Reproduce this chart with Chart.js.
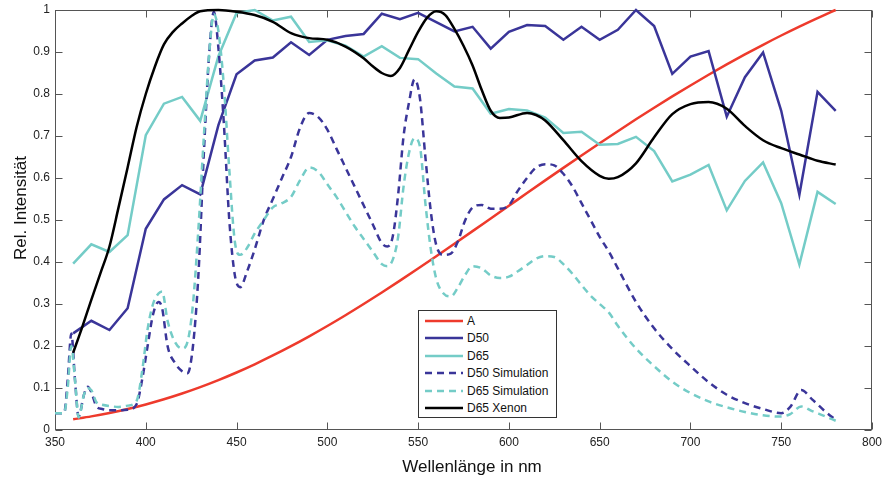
<!DOCTYPE html>
<html><head><meta charset="utf-8">
<script src="https://cdn.jsdelivr.net/npm/chart.js@4/dist/chart.umd.min.js"></script>
<style>
body{margin:0;background:#fff;}
#wrap{position:relative;width:883px;height:481px;overflow:hidden;}
#legendBox{position:absolute;left:418px;top:310px;width:137px;height:106px;border:1px solid #333;background:#fff;}
.lg{position:absolute;font-family:"Liberation Sans",Arial,sans-serif;font-size:12px;color:#111;line-height:14px;white-space:nowrap;}
.ls{position:absolute;}
.ttl{position:absolute;font-family:"Liberation Sans",Arial,sans-serif;font-size:17px;color:#111;line-height:20px;white-space:nowrap;}
#xTitle{left:322px;width:300px;text-align:center;top:457px;}
#yTitle{left:-129px;top:198px;width:300px;text-align:center;transform:rotate(-90deg);}
</style></head><body>
<div id="wrap"><canvas id="c" width="883" height="481"></canvas><div id="legendBox"></div>
<div class="ttl" id="xTitle">Wellenlänge in nm</div><div class="ttl" id="yTitle">Rel. Intensität</div></div>
<script>
const seriesNames = ["A","D50","D65","D50 Simulation","D65 Simulation","D65 Xenon"];
const wavelengths = [360,370,380,390,400,410,420,430,440,450,460,470,480,490,500,510,520,530,540,550,560,570,580,590,600,610,620,630,640,650,660,670,680,690,700,710,720,730,740,750,760,770,780];
const illumA = [0.0254,0.0324,0.0406,0.0500,0.0609,0.0732,0.0869,0.1021,0.1188,0.1369,0.1564,0.1774,0.1996,0.2231,0.2477,0.2733,0.3000,0.3274,0.3556,0.3844,0.4138,0.4435,0.4735,0.5037,0.5339,0.5642,0.5943,0.6241,0.6537,0.6829,0.7115,0.7397,0.7673,0.7942,0.8203,0.8458,0.8704,0.8942,0.9172,0.9393,0.9604,0.9807,1.0];
const illumD50 = [0.23,0.26,0.238,0.29,0.479,0.549,0.583,0.561,0.726,0.847,0.880,0.887,0.923,0.893,0.929,0.938,0.943,0.991,0.978,0.993,0.971,0.949,0.960,0.908,0.948,0.964,0.962,0.929,0.960,0.929,0.953,1.0,0.962,0.848,0.889,0.902,0.746,0.840,0.899,0.760,0.560,0.805,0.760];
const illumD65 = [0.396,0.442,0.424,0.464,0.702,0.777,0.793,0.736,0.890,0.993,1.0,0.975,0.984,0.924,0.928,0.915,0.889,0.914,0.886,0.883,0.849,0.818,0.813,0.753,0.764,0.761,0.744,0.707,0.710,0.679,0.681,0.698,0.664,0.592,0.608,0.631,0.523,0.593,0.637,0.540,0.394,0.567,0.538];
const xenonNm = [360,365,370,375,380,385,390,395,400,405,410,415,420,425,430,440,450,460,470,480,490,500,510,520,525,530,535,540,545,550,555,560,565,570,575,580,585,590,595,600,610,615,620,630,640,650,655,660,670,680,690,700,710,720,730,740,750,760,770,780];
const xenonD65 = [0.184,0.245,0.31,0.373,0.437,0.53,0.625,0.722,0.80,0.865,0.918,0.948,0.968,0.985,0.997,1.0,0.996,0.988,0.972,0.945,0.933,0.929,0.913,0.885,0.866,0.85,0.843,0.862,0.905,0.948,0.982,0.997,0.988,0.955,0.915,0.868,0.81,0.76,0.743,0.744,0.755,0.75,0.737,0.69,0.64,0.605,0.598,0.602,0.635,0.697,0.752,0.776,0.781,0.765,0.724,0.69,0.671,0.656,0.641,0.632];
const simNm = [350,355,357,359,361,363,366,368,370,373,376,380,385,390,395,398,401,404,407,409,412,416,420,423,426,429,432,435,437.5,440,443,446,449,452,456,460,465,470,475,480,485,490,495,500,505,510,515,520,525,530,533,536,539,542,545,548,551,554,557,560,564,568,572,576,580,585,590,595,600,605,610,615,620,625,630,635,640,645,650,655,660,670,680,690,700,710,720,730,740,750,755,761,767,774,780];
const simD50 = [0.04,0.04,0.12,0.23,0.12,0.032,0.085,0.103,0.09,0.055,0.05,0.047,0.047,0.048,0.062,0.12,0.2,0.275,0.305,0.29,0.2,0.16,0.14,0.135,0.2,0.37,0.66,0.9,0.995,0.91,0.73,0.5,0.37,0.34,0.38,0.43,0.5,0.55,0.6,0.65,0.72,0.755,0.745,0.715,0.67,0.625,0.58,0.535,0.49,0.445,0.437,0.46,0.56,0.7,0.78,0.835,0.79,0.65,0.52,0.44,0.417,0.42,0.45,0.5,0.53,0.536,0.527,0.527,0.535,0.57,0.6,0.625,0.633,0.63,0.61,0.58,0.54,0.5,0.46,0.425,0.385,0.305,0.242,0.193,0.152,0.114,0.084,0.064,0.05,0.04,0.055,0.095,0.073,0.045,0.024];
const simD65 = [0.04,0.04,0.1,0.2,0.12,0.03,0.085,0.1,0.095,0.065,0.06,0.057,0.055,0.058,0.07,0.14,0.24,0.3,0.325,0.33,0.26,0.21,0.194,0.21,0.3,0.48,0.7,0.9,0.99,0.95,0.82,0.62,0.45,0.417,0.435,0.468,0.5,0.53,0.54,0.555,0.595,0.625,0.615,0.585,0.555,0.52,0.485,0.455,0.425,0.395,0.39,0.405,0.46,0.58,0.66,0.695,0.675,0.54,0.43,0.36,0.325,0.318,0.34,0.37,0.39,0.385,0.368,0.362,0.365,0.378,0.393,0.408,0.414,0.412,0.395,0.372,0.345,0.32,0.3,0.28,0.248,0.194,0.152,0.115,0.088,0.068,0.054,0.043,0.035,0.032,0.038,0.056,0.045,0.033,0.022];
const xTicks = [350,400,450,500,550,600,650,700,750,800];
const yTicks = [0,0.1,0.2,0.3,0.4,0.5,0.6,0.7,0.8,0.9,1];

const colors = ["#ee3a2c","#3a3599","#74ccc7","#3a3599","#74ccc7","#000000"];
const dashes = [[],[],[],[7,5],[7,5],[]];
const pts = (xs, ys) => xs.map((x,i)=>({x:x, y:ys[i]}));
const dataSets = [
  pts(wavelengths, illumA), pts(wavelengths, illumD50), pts(wavelengths, illumD65),
  pts(simNm, simD50), pts(simNm, simD65), pts(xenonNm, xenonD65)
];
const smooth = [true,false,false,true,true,true];
const datasets = seriesNames.map((n,i)=>({
  label:n, data:dataSets[i], borderColor:colors[i], backgroundColor:colors[i],
  borderWidth:2.5, borderDash:dashes[i], pointRadius:0, fill:false, clip:false,
  tension: smooth[i] ? 0.4 : 0,
  cubicInterpolationMode: smooth[i] ? 'monotone' : 'default',
  order: 6-i
}));

const frame = {
  id:'frame',
  beforeDatasetsDraw(chart){
    const {ctx, chartArea:a, scales:{x,y}} = chart;
    ctx.save();
    ctx.strokeStyle='#555'; ctx.lineWidth=1;
    const L=Math.round(a.left)+0.5, R=Math.round(a.right)-0.5, T=Math.round(a.top)+0.5, B=Math.round(a.bottom)-0.5;
    ctx.strokeRect(L,T,R-L,B-T);
    ctx.beginPath();
    xTicks.forEach(v=>{const p=Math.round(x.getPixelForValue(v))+0.5; ctx.moveTo(p,B); ctx.lineTo(p,B-7); ctx.moveTo(p,T); ctx.lineTo(p,T+7);});
    yTicks.forEach(v=>{const p=Math.round(y.getPixelForValue(v))+0.5; ctx.moveTo(L,p); ctx.lineTo(L+7,p); ctx.moveTo(R,p); ctx.lineTo(R-7,p);});
    ctx.stroke();
    ctx.restore();
  }
};

Chart.defaults.font.family = "'Liberation Sans', Arial, sans-serif";
Chart.defaults.color = '#222';
const chart = new Chart(document.getElementById('c'), {
  type:'line',
  data:{datasets:datasets},
  options:{
    responsive:false, animation:false, devicePixelRatio:1,
    layout:{padding:{left:0,right:11,top:10,bottom:0}},
    plugins:{legend:{display:false}, tooltip:{enabled:false}},
    scales:{
      x:{type:'linear', min:350, max:800,
         afterBuildTicks:s=>{s.ticks = xTicks.map(v=>({value:v}));},
         ticks:{font:{size:12}, padding:5, maxRotation:0, autoSkip:false, color:'#222'},
         grid:{display:false, drawTicks:false}, border:{display:false},
         title:{display:false},
         afterFit:s=>{s.height=51; s.paddingLeft=0; s.paddingRight=0;}},
      y:{type:'linear', min:0, max:1,
         afterBuildTicks:s=>{s.ticks = yTicks.map(v=>({value:v}));},
         ticks:{font:{size:12}, padding:5, color:'#222', callback:v=>String(Math.round(v*10)/10)},
         grid:{display:false, drawTicks:false}, border:{display:false},
         title:{display:false},
         afterFit:s=>{s.width=55; s.paddingTop=0; s.paddingBottom=0;}}
    }
  },
  plugins:[frame]
});

const wrap = document.getElementById('wrap');
seriesNames.forEach((n,i)=>{
  const cy = 320.7 + 17.5*i;
  const svgNS='http://www.w3.org/2000/svg';
  const svg=document.createElementNS(svgNS,'svg');
  svg.setAttribute('class','ls'); svg.setAttribute('width','40'); svg.setAttribute('height','6');
  svg.style.left='424px'; svg.style.top=(cy-3)+'px';
  const ln=document.createElementNS(svgNS,'line');
  ln.setAttribute('x1','1'); ln.setAttribute('x2','39'); ln.setAttribute('y1','3'); ln.setAttribute('y2','3');
  ln.setAttribute('stroke',colors[i]); ln.setAttribute('stroke-width','2.5');
  if(dashes[i].length) ln.setAttribute('stroke-dasharray', dashes[i].join(' '));
  svg.appendChild(ln); wrap.appendChild(svg);
  const t=document.createElement('div'); t.className='lg'; t.textContent=n;
  t.style.left='467px'; t.style.top=(cy-7)+'px'; wrap.appendChild(t);
});
</script>
</body></html>
